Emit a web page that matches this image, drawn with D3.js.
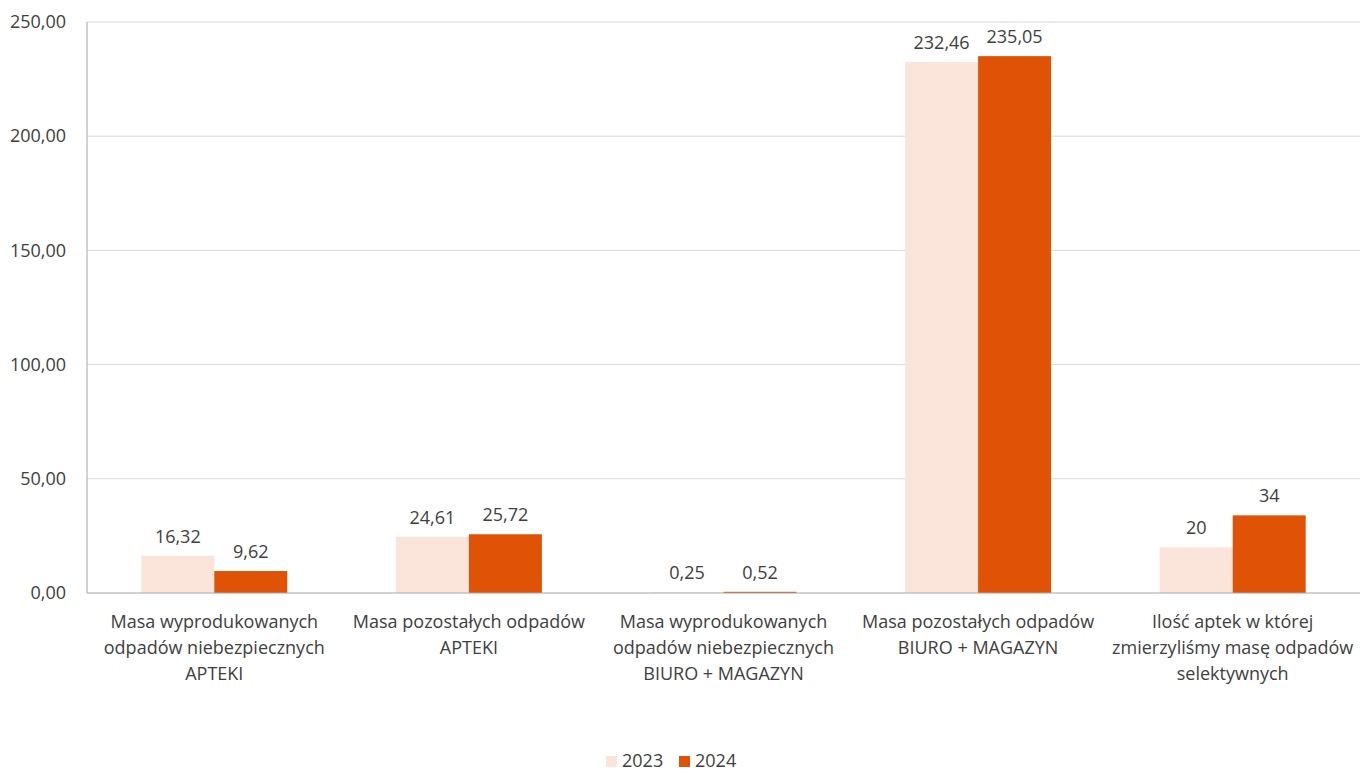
<!DOCTYPE html>
<html>
<head>
<meta charset="utf-8">
<script src="https://cdn.jsdelivr.net/npm/d3@7"></script>
<style>
  body { margin: 0; background: #fff; }
  text { font-family: "Open Sans", sans-serif; fill: #404040; }
</style>
</head>
<body>
<svg id="chart" width="1360" height="771"></svg>
<script>
const categories = [
  ["Masa wyprodukowanych", "odpadów niebezpiecznych", "APTEKI"],
  ["Masa pozostałych odpadów", "APTEKI"],
  ["Masa wyprodukowanych", "odpadów niebezpiecznych", "BIURO + MAGAZYN"],
  ["Masa pozostałych odpadów", "BIURO + MAGAZYN"],
  ["Ilość aptek w której", "zmierzyliśmy masę odpadów", "selektywnych"]
];
const series = ["2023", "2024"];
const values2023 = [16.32, 24.61, 0.25, 232.46, 20];
const values2024 = [9.62, 25.72, 0.52, 235.05, 34];
const labels2023 = ["16,32", "24,61", "0,25", "232,46", "20"];
const labels2024 = ["9,62", "25,72", "0,52", "235,05", "34"];
const yTicks = [0, 50, 100, 150, 200, 250];

const colors = {"2023": "#FBE5DB", "2024": "#E05206"};

const svg = d3.select('#chart');
const plotL = 87, plotR = 1360, plotT = 22, plotB = 593;

const x0 = d3.scaleBand()
  .domain(d3.range(categories.length))
  .range([plotL, plotR]);

const x1 = d3.scaleBand()
  .domain(series)
  .range([0, x0.bandwidth()])
  .paddingOuter(0.744);

const y = d3.scaleLinear().domain([0, 250]).range([plotB, plotT]);

// gridlines
svg.append('g')
  .selectAll('line')
  .data(yTicks.slice(1))
  .enter()
  .append('line')
  .attr('x1', plotL).attr('x2', plotR)
  .attr('y1', d => y(d)).attr('y2', d => y(d))
  .attr('stroke', '#d9d9d9')
  .attr('stroke-width', 1);

// y axis labels
const yAxis = svg.append('g')
  .attr('transform', `translate(${plotL},0)`)
  .call(d3.axisLeft(y).tickValues(yTicks).tickSize(0).tickPadding(21)
    .tickFormat(d => d3.format('.2f')(d).replace('.', ',')));
yAxis.select('.domain').remove();
yAxis.selectAll('text')
  .attr('font-size', '18px')
  .style('font-family', '"Open Sans", sans-serif')
  .attr('fill', '#404040');

// bars
const rows = categories.map((c, i) => ({
  i: i,
  vals: [
    {s: "2023", v: values2023[i], l: labels2023[i]},
    {s: "2024", v: values2024[i], l: labels2024[i]}
  ]
}));

const groups = svg.append('g')
  .selectAll('g')
  .data(rows)
  .enter()
  .append('g')
  .attr('transform', d => `translate(${x0(d.i)},0)`);

groups.selectAll('rect')
  .data(d => d.vals)
  .enter()
  .append('rect')
  .attr('x', d => x1(d.s))
  .attr('width', x1.bandwidth())
  .attr('y', d => y(d.v))
  .attr('height', d => y(0) - y(d.v))
  .attr('fill', d => colors[d.s]);

groups.selectAll('text.val')
  .data(d => d.vals)
  .enter()
  .append('text')
  .attr('class', 'val')
  .text(d => d.l)
  .attr('x', d => x1(d.s) + x1.bandwidth() / 2)
  .attr('y', d => y(d.v) - 13)
  .attr('text-anchor', 'middle')
  .attr('font-size', '18px');

// axis lines
svg.append('line')
  .attr('x1', plotL).attr('x2', plotL)
  .attr('y1', plotT).attr('y2', plotB)
  .attr('stroke', '#a6a6a6');
svg.append('line')
  .attr('x1', plotL).attr('x2', plotR)
  .attr('y1', plotB).attr('y2', plotB)
  .attr('stroke', '#a6a6a6');

// category labels
svg.append('g')
  .selectAll('text')
  .data(categories)
  .enter()
  .append('text')
  .attr('x', (d, i) => x0(i) + x0.bandwidth() / 2)
  .attr('y', 628)
  .attr('text-anchor', 'middle')
  .attr('font-size', '18px')
  .selectAll('tspan')
  .data(d => d)
  .enter()
  .append('tspan')
  .attr('x', function() { return this.parentNode.getAttribute('x'); })
  .attr('dy', (d, i) => i === 0 ? 0 : 26)
  .text(d => d);

// legend
const legend = svg.append('g');
const legendItems = [{s: "2023", x: 606}, {s: "2024", x: 679}];
legend.selectAll('rect')
  .data(legendItems)
  .enter()
  .append('rect')
  .attr('x', d => d.x).attr('y', 756)
  .attr('width', 11).attr('height', 11)
  .attr('fill', d => colors[d.s]);
legend.selectAll('text')
  .data(legendItems)
  .enter()
  .append('text')
  .attr('x', d => d.x + 16).attr('y', 767)
  .attr('font-size', '18px')
  .text(d => d.s);
</script>
</body>
</html>
